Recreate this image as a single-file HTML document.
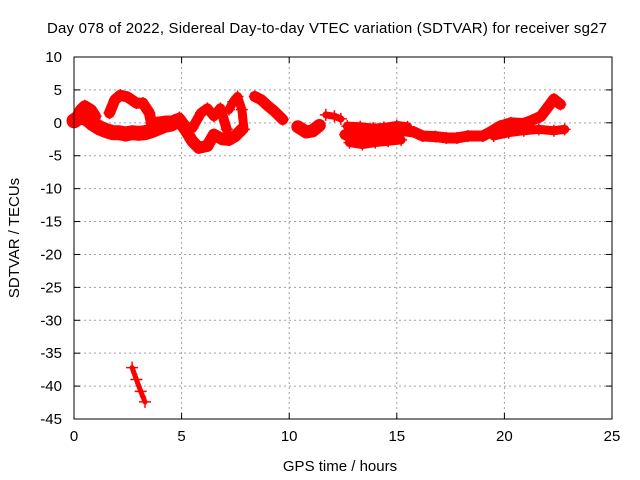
<!DOCTYPE html>
<html><head><meta charset="utf-8"><style>
body{margin:0;background:#fff;}
svg{display:block;font-family:"Liberation Sans",sans-serif;}
</style></head><body>
<svg id="chart" width="640" height="480">
<text x="327" y="33" font-size="15" text-anchor="middle" textLength="560">Day 078 of 2022, Sidereal Day-to-day VTEC variation (SDTVAR) for receiver sg27</text>
<text x="340" y="471" font-size="15" text-anchor="middle">GPS time / hours</text>
<text transform="translate(19,238) rotate(-90)" font-size="15" text-anchor="middle">SDTVAR / TECUs</text>
<g id="grid"></g><g id="ticks"></g><g id="series"></g>
<rect x="74" y="57" width="538" height="362" fill="none" stroke="#000" stroke-width="1"/>
</svg>
<script>
const xTicks=[0,5,10,15,20,25];
const yTicks=[10,5,0,-5,-10,-15,-20,-25,-30,-35,-40,-45];
// tracks: hours and SDTVAR values
const t1x=[0,0.3,0.6,0.9,1.2,1.5,1.8,2.1,2.4,2.7,3.0,3.3,3.6,3.9,4.2,4.5,4.8];
const t1y=[0.3,1.0,0.6,-0.2,-0.8,-1.2,-1.5,-1.5,-1.7,-1.5,-1.6,-1.5,-1.2,-0.8,-0.4,-0.2,0.3];
const t2x=[0.15,0.3,0.5,0.8,1.0];
const t2y=[1.0,2.0,2.6,2.0,1.0];
const t3x=[1.65,1.9,2.15,2.5,2.9,3.2,3.5,3.6];
const t3y=[1.5,3.5,4.2,3.9,3.0,3.0,1.5,0];
const t4x=[3.85,4.3,4.9,5.2,5.5,5.8,6.2,6.5,6.9,7.2,7.5,7.8];
const t4y=[0,0.2,0.2,-1.2,-2.8,-3.8,-3.5,-1.8,-2.5,-2.6,-2.0,-1.0];
const t5x=[4.9,5.2,5.5,5.9,6.2,6.5,6.8,7.1];
const t5y=[0.8,-0.5,-0.8,1.5,2.2,1.0,2.2,-1.0];
const t6x=[7.2,7.4,7.6,7.8,7.9];
const t6y=[2.0,3.2,4.0,2.0,-1.0];
const t7x=[8.4,8.7,9.0,9.3,9.7];
const t7y=[4.0,3.5,2.6,1.8,0.5];
const t8x=[10.4,10.8,11.1,11.4];
const t8y=[-0.6,-1.4,-1.2,-0.4];
const t9x=[11.7,12.1,12.4];
const t9y=[1.2,1.0,0.6];
const t10x=[12.6,13.2,13.8,14.2,14.7,15.3,15.8,16.2,16.8,17.3,17.8,18.3,19.0,19.4,19.8,20.3,20.9,21.3,21.7,22.0,22.3,22.6];
const t10y=[-1.8,-2.0,-2.2,-1.8,-1.4,-1.2,-1.4,-2.0,-2.1,-2.3,-2.3,-2.0,-2.0,-1.3,-0.5,0.0,-0.1,0.4,1.0,2.3,3.6,2.8];
const t13x=[12.7,13.3,13.9,14.4,15.0,15.5];
const t13y=[-0.5,-0.6,-0.8,-0.7,-0.4,-0.6];
const t14x=[12.8,13.4,14.0,14.6,15.2];
const t14y=[-3.0,-3.3,-3.0,-2.8,-2.6];
const t11x=[19.5,20.2,20.9,21.6,22.3,22.8];
const t11y=[-2.0,-1.5,-1.2,-1.0,-1.2,-1.0];
const t12x=[2.7,2.9,3.1,3.3];
const t12y=[-37.2,-39.0,-40.8,-42.4];
const tracksX=[t1x,t2x,t3x,t4x,t5x,t6x,t7x,t8x,t9x,t10x,t13x,t14x,t11x,t12x];
const tracksY=[t1y,t2y,t3y,t4y,t5y,t6y,t7y,t8y,t9y,t10y,t13y,t14y,t11y,t12y];
const widths=[15,11,11,12,10,9,11,13,7,11,9,9,9,5];

const NS="http://www.w3.org/2000/svg";
const X0=74,X1=612,Y0=57,Y1=419;
function xs(v){return X0+(v-0)/(25-0)*(X1-X0);}
function ys(v){return Y0+(10-v)/(10-(-45))*(Y1-Y0);}
function mk(tag,attrs,parent){const e=document.createElementNS(NS,tag);for(const k in attrs)e.setAttribute(k,attrs[k]);parent.appendChild(e);return e;}
const grid=document.getElementById('grid'),ticks=document.getElementById('ticks'),ser=document.getElementById('series');
xTicks.forEach(v=>{
  const x=xs(v);
  if(v>0&&v<25){const g=mk('line',{x1:x,x2:x,y1:Y0,y2:Y1,stroke:'#a0a0a0','stroke-dasharray':'2,3'},grid);
  
  }
  mk('line',{x1:x,x2:x,y1:Y1,y2:Y1-6,stroke:'#000'},ticks);
  mk('line',{x1:x,x2:x,y1:Y0,y2:Y0+6,stroke:'#000'},ticks);
  const t=mk('text',{x:x,y:Y1+22,'font-size':15,'text-anchor':'middle'},ticks);t.textContent=v;
  
  
});
yTicks.forEach(v=>{
  const y=ys(v);
  if(v<10&&v>-45){const g=mk('line',{x1:X0,x2:X1,y1:y,y2:y,stroke:'#a0a0a0','stroke-dasharray':'2,3'},grid);
  
  }
  mk('line',{x1:X0,x2:X0+6,y1:y,y2:y,stroke:'#000'},ticks);
  mk('line',{x1:X1,x2:X1-6,y1:y,y2:y,stroke:'#000'},ticks);
  const t=mk('text',{x:X0-12,y:y+5,'font-size':15,'text-anchor':'end'},ticks);t.textContent=v;
  
  
});
tracksX.forEach((tx,i)=>{
  const ty=tracksY[i];
  const pts=tx.map((v,j)=>xs(v)+','+ys(ty[j])).join(' ');
  const pl=mk('polyline',{points:pts,fill:'none',stroke:'#ff0000','stroke-width':widths[i],'stroke-linejoin':'round','stroke-linecap':'round'},ser);
  
  
  tx.forEach((v,j)=>{
    const x=xs(v),y=ys(ty[j]);
    const p=mk('path',{d:`M${x-6},${y}h12M${x},${y-6}v12`,stroke:'#ff0000','stroke-width':1.5},ser);
    
    
  });
});
</script>
</body></html>
